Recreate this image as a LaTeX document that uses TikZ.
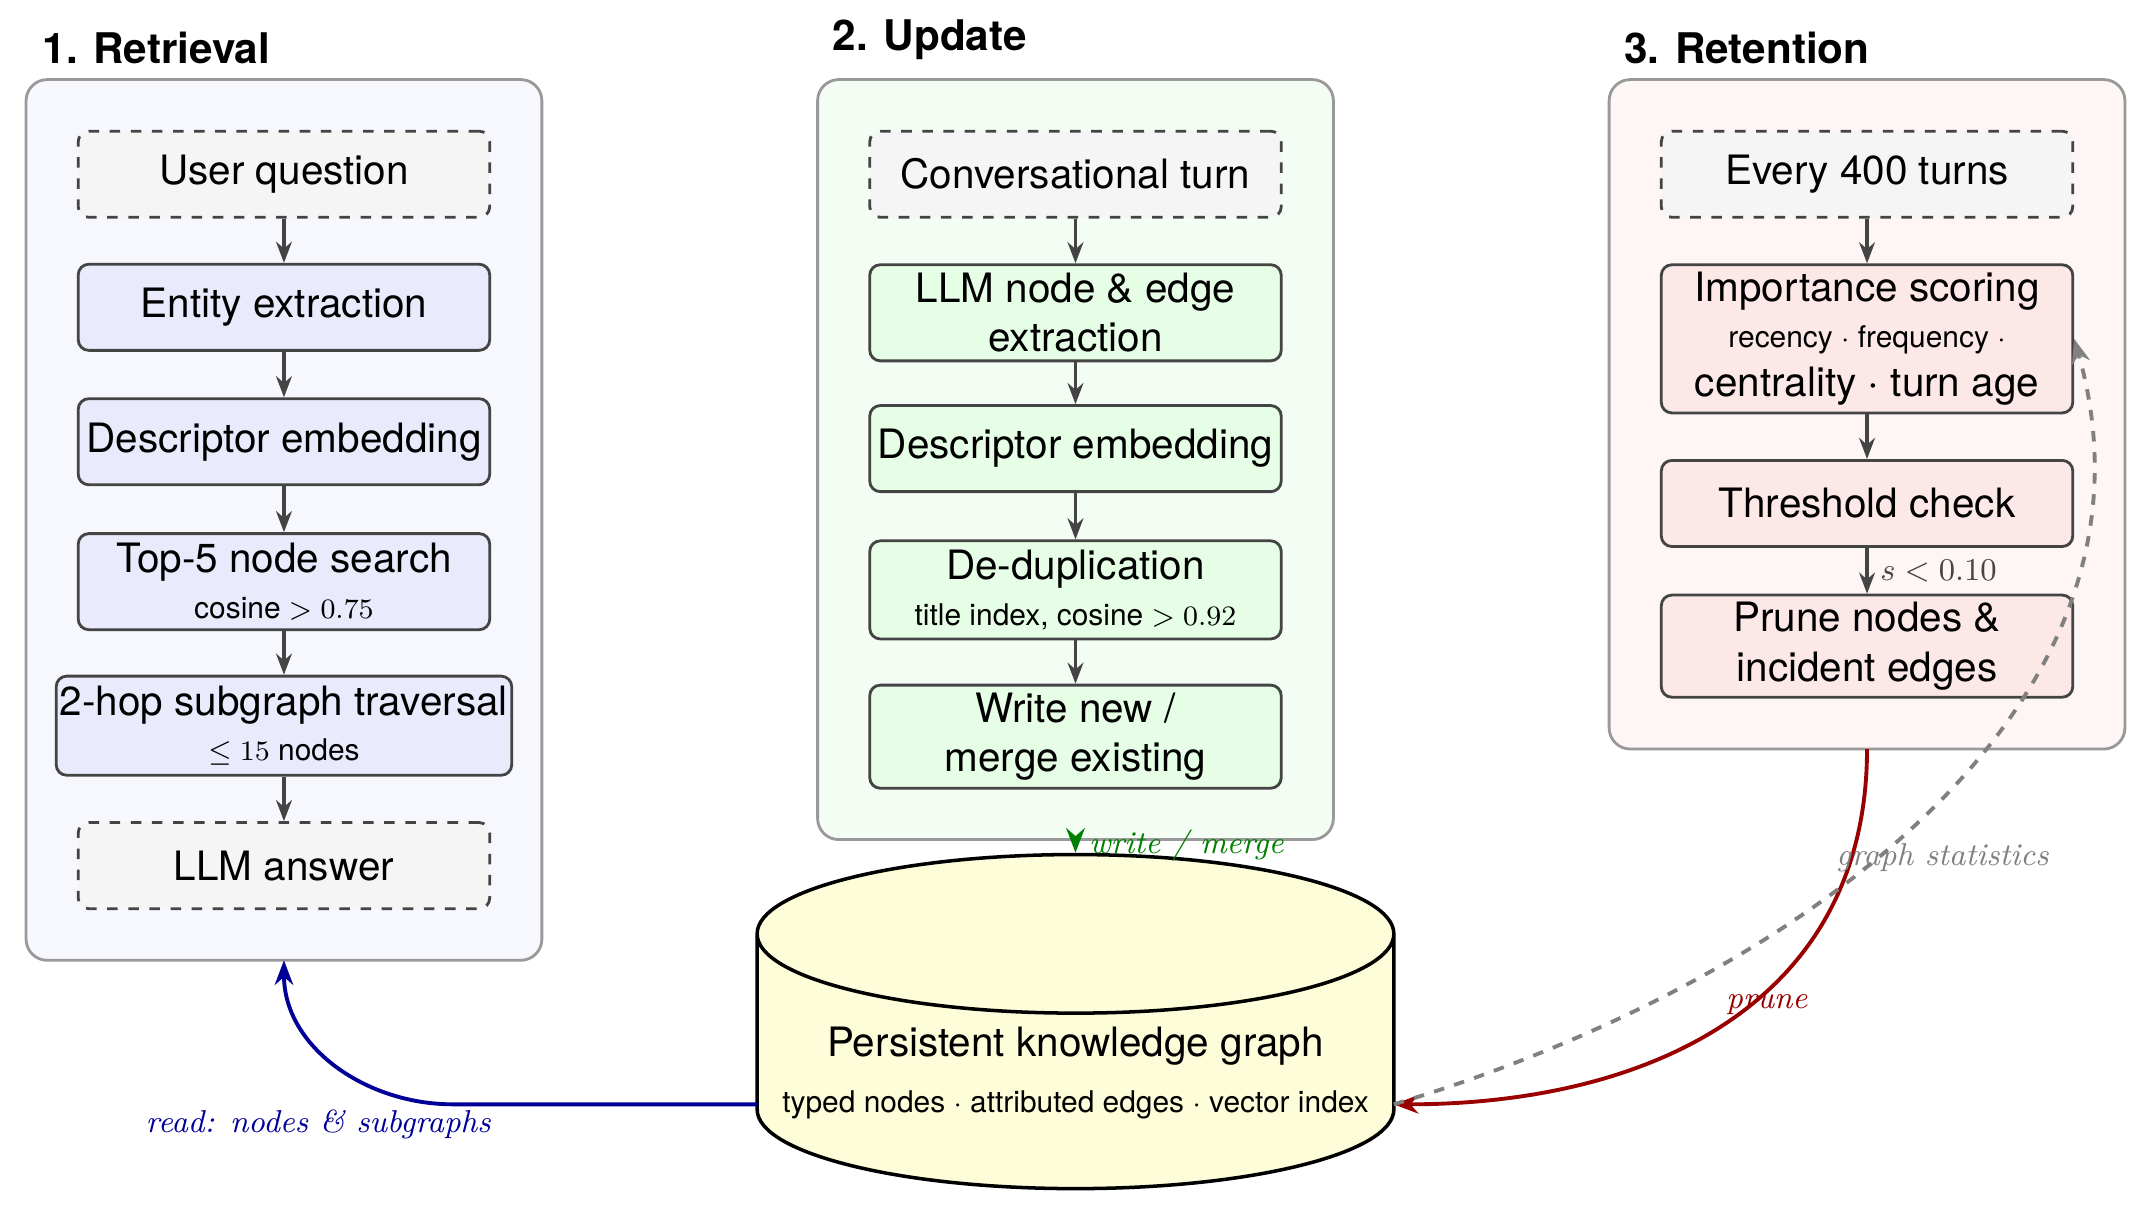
\documentclass[tikz,border=0pt]{standalone}
\usepackage{fontspec}
\setmainfont{TeX Gyre Heros}
\newfontfamily\lmr{Latin Modern Roman}
\usetikzlibrary{arrows.meta,shapes.geometric}

\definecolor{edgegray}{HTML}{444444}
\definecolor{retrbg}{HTML}{F7F7FE}
\definecolor{retrbox}{HTML}{EAEAFD}
\definecolor{updbg}{HTML}{F3FDF3}
\definecolor{updbox}{HTML}{E6FDE6}
\definecolor{retbg}{HTML}{FEF5F5}
\definecolor{retbox}{HTML}{FDE8E8}
\definecolor{kgfill}{HTML}{FDFDD9}

\tikzset{
  panel/.style={draw=gray!80, rounded corners=6pt, line width=0.8pt},
  stage/.style={draw=edgegray, rounded corners=3pt, line width=0.8pt, minimum width=4.11cm, align=center, font=\fontsize{11.5}{14}\selectfont, inner sep=1pt},
  io/.style={stage, dashed, fill=gray!8, minimum height=0.86cm},
  flow/.style={-{Stealth[length=6pt]}, edgegray, line width=0.9pt},
  header/.style={anchor=west, font=\bfseries\fontsize{12}{14}\selectfont},
  curvelabel/.style={font=\lmr\itshape\fontsize{9}{11}\selectfont}
}
\newcommand{\subline}[1]{\\[-1pt]\fontsize{8.5}{13}\selectfont #1}

\begin{document}
\begin{tikzpicture}[x=0.0137cm,y=-0.0137cm]
  \useasboundingbox (0,0) rectangle (1560,887);
  % panels
  \draw[panel, fill=retrbg] (19,58) rectangle (395,700);
  \draw[panel, fill=updbg] (596,58) rectangle (972,612);
  \draw[panel, fill=retbg] (1173,58) rectangle (1549,546);
  \coordinate (retrbottom) at (207,700);
  \coordinate (updbottom) at (784,612);
  \coordinate (retbottom) at (1361,546);
  \path (22,35) node[header] (h1) {1. Retrieval};
  \path (598,29) node[header] (h2) {2. Update};
  \path (1175,35) node[header] (h3) {3. Retention};

  % retrieval
  \path (207,127) node[io] (r0) {User question};
  \path (207,224) node[stage, fill=retrbox, minimum height=0.86cm] (r1) {Entity extraction};
  \path (207,322) node[stage, fill=retrbox, minimum height=0.86cm] (r2) {Descriptor embedding};
  \path (207,424) node[stage, fill=retrbox, minimum height=0.96cm] (r3) {Top-5 node search\subline{cosine $>0.75$}};
  \path (207,529) node[stage, fill=retrbox, minimum height=0.99cm, minimum width=4.55cm] (r4) {2-hop subgraph traversal\subline{$\leq 15$ nodes}};
  \path (207,631) node[io] (r5) {LLM answer};
  \foreach \a/\b in {r0/r1,r1/r2,r2/r3,r3/r4,r4/r5}
    \draw[flow] (\a) -- (\b);

  % update
  \path (784,127) node[io] (u0) {Conversational turn};
  \path (784,228) node[stage, fill=updbox, minimum height=0.96cm] (u1) {LLM node \& edge\\extraction};
  \path (784,327) node[stage, fill=updbox, minimum height=0.86cm] (u2) {Descriptor embedding};
  \path (784,430) node[stage, fill=updbox, minimum height=0.98cm] (u3) {De-duplication\subline{title index, cosine $>0.92$}};
  \path (784,537) node[stage, fill=updbox, minimum height=1.03cm] (u4) {Write new /\\merge existing};
  \foreach \a/\b in {u0/u1,u1/u2,u2/u3,u3/u4}
    \draw[flow] (\a) -- (\b);

  % retention
  \path (1361,127) node[io] (t0) {Every 400 turns};
  \path (1361,247) node[stage, fill=retbox, minimum height=1.48cm] (t1) {Importance scoring\\[-1pt]\fontsize{8.5}{18}\selectfont recency $\cdot$ frequency $\cdot$\\ centrality $\cdot$ turn age};
  \path (1361,367) node[stage, fill=retbox, minimum height=0.86cm] (t2) {Threshold check};
  \path (1361,471) node[stage, fill=retbox, minimum height=1.02cm] (t3) {Prune nodes \&\\incident edges};
  \draw[flow] (t0) -- (t1);
  \draw[flow] (t1) -- (t2);
  \draw[flow] (t2) -- node[right, text=edgegray, font=\fontsize{9}{11}\selectfont] {$s<0.10$} (t3);

  % knowledge graph
  \path (784,782) node[cylinder, shape border rotate=90, aspect=0.26, draw=black, line width=1pt, fill=kgfill, minimum width=6.36cm, minimum height=2.6cm, align=center, font=\fontsize{11.5}{14}\selectfont] (kg) {Persistent knowledge graph\\[2pt]\fontsize{8.5}{11}\selectfont typed nodes $\cdot$ attributed edges $\cdot$ vector index};
  \coordinate (kgleft) at (552,805);
  \coordinate (kgright) at (1016,805);

  % connectors
  \draw[-{Stealth[length=7pt]}, green!50!black, line width=1.1pt] (updbottom) -- node[right, curvelabel, pos=0.45] {write / merge} (kg.top);
  \draw[-{Stealth[length=7pt]}, blue!60!black, line width=1.1pt] (kgleft) -- (330,805) to[out=180,in=-90] (retrbottom);
  \path (232,820) node[curvelabel, text=blue!60!black] (readlbl) {read: nodes \& subgraphs};
  \draw[-{Stealth[length=7pt]}, red!60!black, line width=1.1pt] (retbottom) to[out=-90,in=0, looseness=1.1] (kgright);
  \path (1288,732) node[curvelabel, text=red!60!black] (prunelbl) {prune};
  \draw[-{Stealth[length=7pt]}, gray, dashed, line width=1.1pt] (kgright) .. controls (1300,720) and (1590,520) .. (t1.east);
  \path (1416,625) node[curvelabel, text=gray] (statlbl) {graph statistics};
\end{tikzpicture}
\end{document}
